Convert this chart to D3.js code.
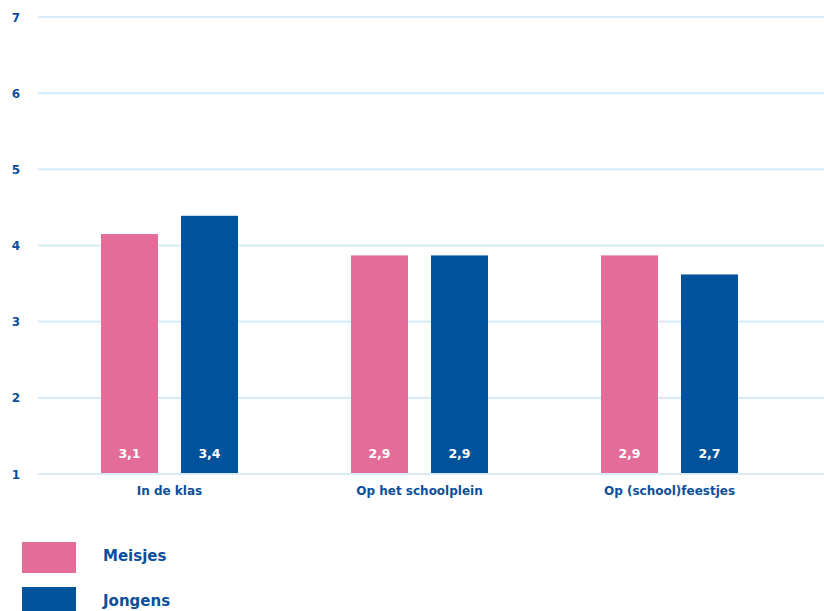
<!DOCTYPE html>
<html><head><meta charset="utf-8">
<script src="https://cdn.jsdelivr.net/npm/d3@7"></script>
<style>body{margin:0;background:#fff}svg{display:block}text{font-family:"DejaVu Sans",sans-serif;font-weight:bold}</style>
</head><body><svg id="c" width="824" height="611"></svg>
<script>
const categories = ["In de klas", "Op het schoolplein", "Op (school)feestjes"];
const series = ["Meisjes", "Jongens"];
const meisjes = [3.15, 2.87, 2.87];
const jongens = [3.39, 2.87, 2.62];
const valueLabels = [["3,1","3,4"],["2,9","2,9"],["2,9","2,7"]];
const tickValues = [0,1,2,3,4,5,6];
const tickLabels = ["1","2","3","4","5","6","7"];
const colors = ["#e46c99", "#00529b"];
const textColor = "#0b4f9b";

const svg = d3.select("#c");
const y = d3.scaleLinear().domain([0,6]).range([474,17]);
const x0 = d3.scaleBand().domain(categories).range([44.5,794.5]);
const x1 = d3.scaleBand().domain(series).range([45,205]).paddingInner(0.2875).paddingOuter(0.14375);

// grid
svg.append("g").selectAll("line").data(tickValues).join("line")
  .attr("x1",38).attr("x2",824).attr("y1",d=>y(d)).attr("y2",d=>y(d))
  .attr("stroke","#d8ebfa").attr("stroke-width",2.2);
svg.append("g").selectAll("text").data(tickValues).join("text")
  .attr("x",16).attr("y",d=>y(d)+4.5).attr("text-anchor","middle")
  .attr("font-size",12).attr("fill",textColor).text((d,i)=>tickLabels[i]);

const data = categories.map((c,i)=>({c, vals:[meisjes[i], jongens[i]], labels:valueLabels[i]}));

const groups = svg.append("g").selectAll("g").data(data).join("g")
  .attr("transform",d=>`translate(${x0(d.c)},0)`);
groups.selectAll("rect").data(d=>d.vals.map((v,j)=>({v,s:series[j],j}))).join("rect")
  .attr("x",d=>x1(d.s)).attr("width",x1.bandwidth())
  .attr("y",d=>y(d.v)).attr("height",d=>y(0)-y(d.v)-1)
  .attr("fill",d=>colors[d.j]);
groups.selectAll("text.v").data(d=>d.labels.map((l,j)=>({l,s:series[j]}))).join("text")
  .attr("class","v").attr("x",d=>x1(d.s)+x1.bandwidth()/2).attr("y",458)
  .attr("text-anchor","middle").attr("font-size",12.5).attr("fill","#fff").text(d=>d.l);
groups.append("text").attr("x",x0.bandwidth()/2).attr("y",495).attr("text-anchor","middle")
  .attr("font-size",12).attr("fill",textColor).text(d=>d.c);

// legend
const leg = svg.append("g").selectAll("g").data(series).join("g")
  .attr("transform",(d,i)=>`translate(22,${542+i*45})`);
leg.append("rect").attr("width",54).attr("height",31).attr("fill",(d,i)=>colors[i]);
leg.append("text").attr("x",81).attr("y",19).attr("font-size",15).attr("fill",textColor).text(d=>d);
</script></body></html>
